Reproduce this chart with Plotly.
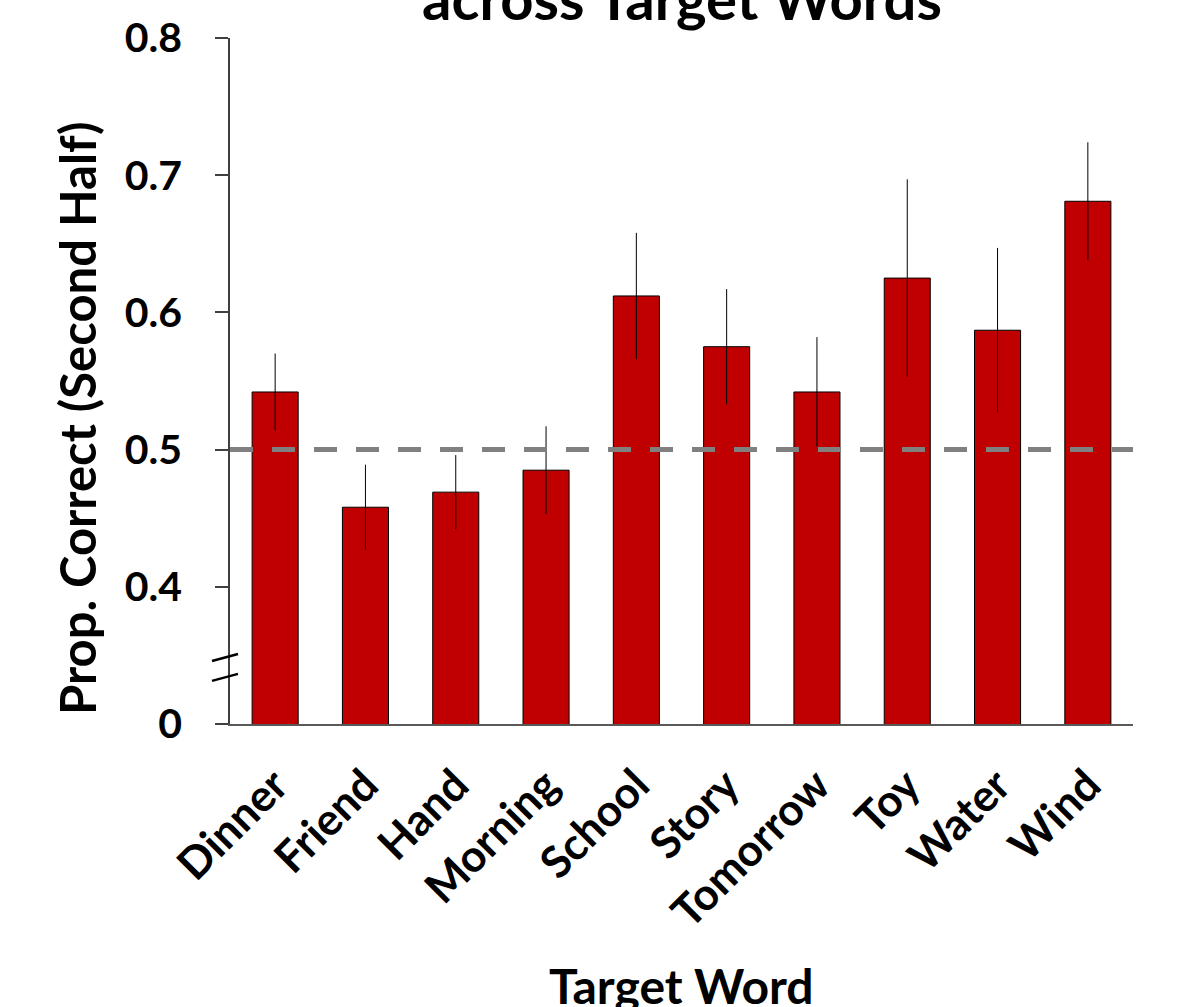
import plotly.graph_objects as go

words = ["Dinner", "Friend", "Hand", "Morning", "School", "Story", "Tomorrow", "Toy", "Water", "Wind"]
prop_correct = [0.542, 0.458, 0.469, 0.485, 0.612, 0.575, 0.542, 0.625, 0.587, 0.681]
err = [0.028, 0.031, 0.027, 0.032, 0.046, 0.042, 0.040, 0.072, 0.060, 0.043]
tick_vals = [0.3, 0.4, 0.5, 0.6, 0.7, 0.8]
tick_text = ["0", "0.4", "0.5", "0.6", "0.7", "0.8"]
chance = 0.5

FONT = "Lato"

fig = go.Figure()
fig.add_trace(go.Bar(
    x=words, y=prop_correct, base=0,
    marker=dict(color="#C00000", line=dict(color="black", width=1)),
    width=0.51,
    error_y=dict(type="data", array=err, color="black", thickness=1, width=0),
))

# chance line
fig.add_shape(type="line", xref="paper", x0=0, x1=1, yref="y", y0=chance, y1=chance,
              line=dict(color="#808080", width=5, dash="23px,19px"), layer="above")

# axis break marks
for yb in [0.3485, 0.334]:
    fig.add_shape(type="line", xref="paper", xsizemode="pixel", xanchor=0, x0=-18, x1=8,
                  yref="y", ysizemode="pixel", yanchor=yb, y0=-3.5, y1=3.5,
                  line=dict(color="black", width=2.5))

fig.update_layout(
    width=1199, height=1007,
    margin=dict(l=230, r=66, t=38, b=283),
    plot_bgcolor="white", paper_bgcolor="white",
    showlegend=False,
    font=dict(family=FONT, color="black", size=38, weight="bold"),
    bargap=0.49,
)
fig.update_yaxes(
    range=[0.3, 0.8], tickvals=tick_vals, ticktext=tick_text,
    showgrid=False, zeroline=False,
    showline=True, linecolor="#404040", linewidth=1.5,
    ticks="outside", ticklen=13, tickcolor="#404040", tickwidth=1.5,
    tickfont=dict(family=FONT, size=41, color="black", weight="bold"),
    ticklabelstandoff=25,
)
fig.update_xaxes(
    showgrid=False, zeroline=False,
    showline=True, linecolor="#595959", linewidth=1.5,
    ticks="", tickangle=-45,
    tickfont=dict(family=FONT, size=44, color="black", weight="bold"),
    ticklabelstandoff=16,
)

fig.add_annotation(text="across Target Words", xref="paper", yref="paper", x=0.5, y=1,
                   xanchor="center", yanchor="bottom", yshift=4, showarrow=False,
                   font=dict(family=FONT, size=58, color="black", weight="bold"))
fig.add_annotation(text="Target Word", xref="paper", yref="paper", x=0.5, y=0,
                   xanchor="center", yanchor="bottom", yshift=-292, showarrow=False,
                   font=dict(family=FONT, size=48, color="black", weight="bold"))
fig.add_annotation(text="Prop. Correct (Second Half)", xref="paper", yref="paper", x=0, y=0.4446,
                   xanchor="center", yanchor="middle", xshift=-153, textangle=-90, showarrow=False,
                   font=dict(family=FONT, size=49, color="black", weight="bold"))

fig.write_html("out.html")
